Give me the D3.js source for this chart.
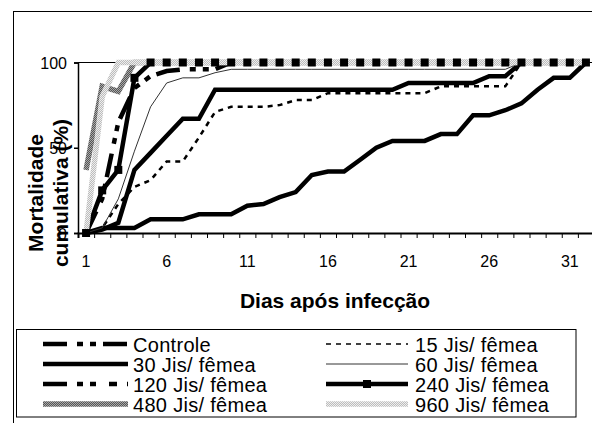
<!DOCTYPE html>
<html>
<head>
<meta charset="utf-8">
<script src="https://cdn.jsdelivr.net/npm/d3@7"></script>
<style>
  body { margin: 0; background: #fff; }
  svg { display: block; font-family: "Liberation Sans", Arial, sans-serif; }
</style>
</head>
<body>
<div id="chart"></div>
<script>
// Dados
const days = [1,2,3,4,5,6,7,8,9,10,11,12,13,14,15,16,17,18,19,20,21,22,23,24,25,26,27,28,29,30,31,32];
const xLabels = [1, 6, 11, 16, 21, 26, 31];
const yTicks = [0, 50, 100];

const seriesNames = ['Controle', '15 Jis/ fêmea', '30 Jis/ fêmea', '60 Jis/ fêmea',
                     '120 Jis/ fêmea', '240 Jis/ fêmea', '480 Jis/ fêmea', '960 Jis/ fêmea'];

const controle = [0,3,3,3,8,8,8,11,11,11,16,17,21,24,34,36,36,43,50,54,54,54,58,58,69,69,72,76,84,91,91,100];
const jis15  = [0,3,17,27,31,42,42,56,71,74,74,74,75,78,78,82,82,82,82,82,82,82,86,86,86,86,86,100,100,100,100,100];
const jis30  = [0,2,6,37,47,57,67,67,84,84,84,84,84,84,84,84,84,84,84,84,88,88,88,88,88,92,92,100,100,100,100,100];
const jis60  = [0,3,20,48,74,88,91,91,94,96,96,96,96,96,96,96,96,96,96,96,96,96,96,96,96,96,96,100,100,100,100,100];
const jis120 = [0,20,65,85,92,95,96,96,96,100,100,100,100,100,100,100,100,100,100,100,100,100,100,100,100,100,100,100,100,100,100,100];
const jis240 = [0,25,37,91,100,100,100,100,100,100,100,100,100,100,100,100,100,100,100,100,100,100,100,100,100,100,100,100,100,100,100,100];
const jis480 = [37,86,83,100,100,100,100,100,100,100,100,100,100,100,100,100,100,100,100,100,100,100,100,100,100,100,100,100,100,100,100,100];
const jis960 = [0,80,100,100,100,100,100,100,100,100,100,100,100,100,100,100,100,100,100,100,100,100,100,100,100,100,100,100,100,100,100,100];

const seriesValues = [controle, jis15, jis30, jis60, jis120, jis240, jis480, jis960];

// Estilos das linhas
const lineStyles = [
  {stroke: '#000', width: 4.5, dash: null, legendDash: '24,10,6,7,6,7'},
  {stroke: '#000', width: 2.5, dash: '5,5', legendDash: '5,5', legendWidth: 1.5},
  {stroke: '#000', width: 4.5, dash: null, legendDash: null},
  {stroke: '#333', width: 1, dash: null, legendDash: null},
  {stroke: '#000', width: 4.5, dash: '24,10,6,7,6,7', legendDash: '24,10,6,7,6,13,8,10'},
  {stroke: '#000', width: 4.5, dash: null, legendDash: null, marker: true},
  {stroke: 'url(#hatchDark)', width: 5.5, dash: null, legendDash: null},
  {stroke: 'url(#hatchLight)', width: 5.5, dash: null, legendDash: null}
];

const W = 592, H = 423;
const svg = d3.select('#chart').append('svg')
  .attr('width', W)
  .attr('height', H);

// Padrões de textura cinza
const defs = svg.append('defs');
const pDark = defs.append('pattern').attr('id', 'hatchDark')
  .attr('width', 2).attr('height', 2).attr('patternUnits', 'userSpaceOnUse');
pDark.append('rect').attr('width', 2).attr('height', 2).attr('fill', '#555');
pDark.append('rect').attr('width', 1).attr('height', 1).attr('fill', '#a8a8a8');
pDark.append('rect').attr('x', 1).attr('y', 1).attr('width', 1).attr('height', 1).attr('fill', '#a8a8a8');
const pLight = defs.append('pattern').attr('id', 'hatchLight')
  .attr('width', 2).attr('height', 2).attr('patternUnits', 'userSpaceOnUse');
pLight.append('rect').attr('width', 2).attr('height', 2).attr('fill', '#bcbcbc');
pLight.append('rect').attr('width', 1).attr('height', 1).attr('fill', '#eeeeee');
pLight.append('rect').attr('x', 1).attr('y', 1).attr('width', 1).attr('height', 1).attr('fill', '#eeeeee');

// Moldura externa
svg.append('rect')
  .attr('x', 13.5).attr('y', 11.5)
  .attr('width', 620).attr('height', 460)
  .attr('fill', 'none').attr('stroke', '#000').attr('stroke-width', 1);

// Escalas
const x = d3.scaleBand().domain(days).range([78, 594]).padding(0);
const xEdge = d3.scaleLinear().domain([0, days.length]).range([78, 594]);
const y = d3.scaleLinear().domain([0, 100]).range([233, 62.5]);
const cx = d => x(d) + x.bandwidth() / 2;

// Eixo Y
const yAxis = svg.append('g')
  .attr('transform', 'translate(78,0)')
  .call(d3.axisLeft(y).tickValues(yTicks).tickSize(4).tickPadding(0));
yAxis.select('.domain').attr('stroke-width', 1.5);
yAxis.selectAll('line').attr('stroke-width', 1.5);
yAxis.selectAll('text')
  .attr('x', -11).attr('dy', null).attr('y', 6)
  .attr('font-size', 16).attr('font-family', '"Liberation Sans", Arial, sans-serif')
  .attr('fill', '#000');

// linha no topo (100)
svg.append('line')
  .attr('x1', 78).attr('x2', 594)
  .attr('y1', y(100)).attr('y2', y(100))
  .attr('stroke', '#000').attr('stroke-width', 1);

// Linhas das séries
const line = d3.line()
  .x((d, i) => cx(days[i]))
  .y(d => y(d));

const gLines = svg.append('g');
seriesValues.forEach(function(vals, i) {
  const st = lineStyles[i];
  gLines.append('path')
    .datum(vals)
    .attr('d', line)
    .attr('fill', 'none')
    .attr('stroke', st.stroke)
    .attr('stroke-width', st.width)
    .attr('stroke-dasharray', st.dash)
    .attr('stroke-linejoin', 'miter')
    .attr('stroke-linecap', 'butt');
});

// Marcadores (240 Jis)
seriesValues.forEach(function(vals, i) {
  if (!lineStyles[i].marker) return;
  svg.append('g').selectAll('rect')
    .data(vals)
    .enter()
    .append('rect')
      .attr('x', (d, j) => cx(days[j]) - 4)
      .attr('y', d => y(d) - 4)
      .attr('width', 8)
      .attr('height', 8)
      .attr('fill', '#000');
});

// Eixo X
const xAxis = svg.append('g')
  .attr('transform', 'translate(0,233)')
  .call(d3.axisBottom(xEdge).tickValues(d3.range(days.length + 1)).tickSize(5).tickFormat(''));
xAxis.select('.domain').attr('stroke-width', 2);
xAxis.selectAll('line').attr('stroke-width', 1);

const xLab = svg.append('g')
  .attr('transform', 'translate(0,233)')
  .call(d3.axisBottom(x).tickValues(xLabels).tickSize(0));
xLab.select('.domain').remove();
xLab.selectAll('text')
  .attr('dy', null).attr('y', 34)
  .attr('font-size', 16).attr('font-family', '"Liberation Sans", Arial, sans-serif')
  .attr('fill', '#000');

// Títulos dos eixos
svg.append('text')
  .attr('x', 335).attr('y', 308)
  .attr('text-anchor', 'middle')
  .attr('font-size', 21).attr('font-weight', 'bold')
  .text('Dias após infecção');

svg.append('text')
  .attr('transform', 'translate(43,193) rotate(-90)')
  .attr('text-anchor', 'middle')
  .attr('font-size', 21).attr('font-weight', 'bold')
  .text('Mortalidade');
svg.append('text')
  .attr('transform', 'translate(68,193) rotate(-90)')
  .attr('text-anchor', 'middle')
  .attr('font-size', 21).attr('font-weight', 'bold')
  .text('cumulativa (%)');

// Legenda
svg.append('rect')
  .attr('x', 16.5).attr('y', 329.5)
  .attr('width', 559.5).attr('height', 87.5)
  .attr('fill', '#fff').attr('stroke', '#000').attr('stroke-width', 1);

const legCols = [{x1: 43, x2: 128, tx: 133}, {x1: 326, x2: 408, tx: 415}];
seriesNames.forEach(function(name, i) {
  const st = lineStyles[i];
  const col = legCols[i % 2];
  const row = Math.floor(i / 2);
  const ly = 344 + row * 20;
  svg.append('line')
    .attr('x1', col.x1).attr('x2', col.x2)
    .attr('y1', ly).attr('y2', ly)
    .attr('stroke', st.stroke)
    .attr('stroke-width', st.legendWidth || st.width)
    .attr('stroke-dasharray', st.legendDash);
  if (st.marker) {
    svg.append('rect')
      .attr('x', (col.x1 + col.x2) / 2 - 4).attr('y', ly - 4)
      .attr('width', 8).attr('height', 8).attr('fill', '#000');
  }
  svg.append('text')
    .attr('x', col.tx).attr('y', ly + 7.5)
    .attr('font-size', 20)
    .attr('letter-spacing', 0.3)
    .text(name);
});
</script>
</body>
</html>
